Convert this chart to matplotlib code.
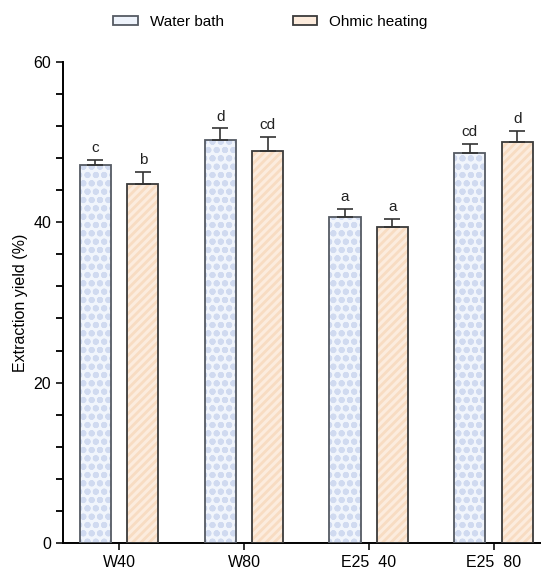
import matplotlib.pyplot as plt
import numpy as np

grupos = ["W40", "W80", "E25  40", "E25  80"]
agua = [47.1, 50.2, 40.6, 48.6]
agua_err = [0.7, 1.5, 1.1, 1.2]
ohmico = [44.8, 48.9, 39.4, 50.0]
ohmico_err = [1.5, 1.7, 1.0, 1.4]
letras_agua = ["c", "d", "a", "cd"]
letras_ohmico = ["b", "cd", "a", "d"]

plt.rcParams['font.family'] = ['Liberation Sans', 'DejaVu Sans']
plt.rcParams['hatch.linewidth'] = 2.0

fig = plt.figure(figsize=(5.41, 5.73), dpi=100)
ax = fig.add_axes([0.1165, 0.0524, 0.8835, 0.8396])

x = np.arange(len(grupos))
ancho = 0.25
desp = 0.19

# relleno con trama (color de trama = edgecolor, sin borde)
ax.bar(x - desp, agua, ancho, color='#f1f5fc', edgecolor='#d0daf0', hatch='oo', linewidth=0, zorder=2)
ax.bar(x + desp, ohmico, ancho, color='#fcecde', edgecolor='#f8dcc2', hatch='////', linewidth=0, zorder=2)
# bordes
ax.bar(x - desp, agua, ancho, facecolor='none', edgecolor='#555a63', linewidth=1.3, zorder=3)
ax.bar(x + desp, ohmico, ancho, facecolor='none', edgecolor='#3a3a3a', linewidth=1.3, zorder=3)

ax.errorbar(x - desp, agua, yerr=[np.zeros(4), agua_err], fmt='none', ecolor='#333333',
            elinewidth=1.2, capsize=6, capthick=1.2, zorder=4)
ax.errorbar(x + desp, ohmico, yerr=[np.zeros(4), ohmico_err], fmt='none', ecolor='#333333',
            elinewidth=1.2, capsize=6, capthick=1.2, zorder=4)

for i in range(len(grupos)):
    ax.text(x[i] - desp, agua[i] + agua_err[i] + 0.6, letras_agua[i], ha='center', va='bottom', fontsize=11, color='#222222')
    ax.text(x[i] + desp, ohmico[i] + ohmico_err[i] + 0.6, letras_ohmico[i], ha='center', va='bottom', fontsize=11, color='#222222')

ax.set_xlim(-0.45, 3.38)
ax.set_ylim(0, 60)
ax.set_yticks([0, 20, 40, 60])
ax.set_yticks(np.arange(0, 61, 4), minor=True)
ax.set_xticks(x)
ax.set_xticklabels(grupos)
ax.tick_params(axis='both', labelsize=11.5, width=1.3, length=5, color='#222222')
ax.tick_params(axis='y', which='minor', width=1.3, length=5)
ax.set_ylabel("Extraction yield (%)", fontsize=11.5)

for lado in ['top', 'right']:
    ax.spines[lado].set_visible(False)
for lado in ['left', 'bottom']:
    ax.spines[lado].set_linewidth(1.4)

# leyenda con cuadros que combinan relleno y borde
from matplotlib.patches import Patch
h1 = Patch(facecolor='#eef3fb', edgecolor='#555a63', linewidth=1.3)
h2 = Patch(facecolor='#fcebdc', edgecolor='#3a3a3a', linewidth=1.3)
fig.legend([h1, h2], ['Water bath', 'Ohmic heating'], loc='center', bbox_to_anchor=(0.5, 0.962),
           ncol=2, frameon=False, fontsize=11, handlelength=1.6, handleheight=0.6, columnspacing=4.5)

fig.savefig('out.png', dpi=100)
